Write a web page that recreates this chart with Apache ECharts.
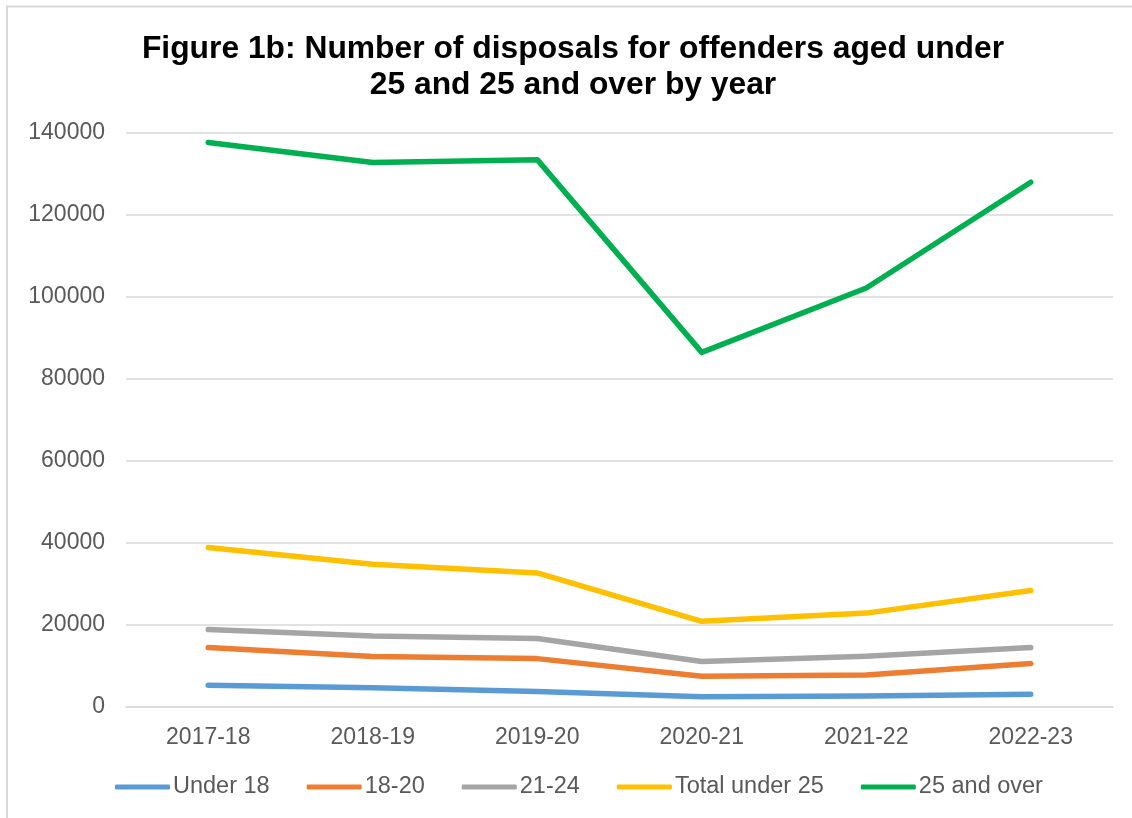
<!DOCTYPE html>
<html>
<head>
<meta charset="utf-8">
<title>Disposals by age group</title>
<script src="https://cdn.jsdelivr.net/npm/echarts@6/dist/echarts.min.js"></script>
<style>
  html, body { margin: 0; padding: 0; background: #fff; }
  #chart { width: 1132px; height: 818px; }
</style>
</head>
<body>
<div id="chart"></div>
<script>
// Financial years on the category axis
const years = ['2017-18', '2018-19', '2019-20', '2020-21', '2021-22', '2022-23'];

// Number of disposals per age group
const under18 = [5300, 4700, 3800, 2500, 2700, 3100];
const age18to20 = [14500, 12300, 11800, 7500, 7800, 10600];
const age21to24 = [18900, 17300, 16700, 11100, 12400, 14500];
const totalUnder25 = [38900, 34800, 32700, 20900, 22900, 28400];
const age25andOver = [137700, 132800, 133500, 86500, 102200, 128000];

const seriesNames = ['Under 18', '18-20', '21-24', 'Total under 25', '25 and over'];
const seriesColors = ['#5B9BD5', '#ED7D31', '#A5A5A5', '#FFC000', '#00B050'];
const seriesData = [under18, age18to20, age21to24, totalUnder25, age25andOver];

const FONT = "'Liberation Sans', Arial, sans-serif";
const chart = echarts.init(document.getElementById('chart'), null, { renderer: 'canvas' });

chart.setOption({
  backgroundColor: '#ffffff',
  animation: false,
  title: {
    text: 'Figure 1b: Number of disposals for offenders aged under\n25 and 25 and over by year',
    left: 568,
    top: 26,
    textAlign: 'center',
    textStyle: {
      fontFamily: FONT,
      fontWeight: 'bold',
      fontSize: 31.8,
      lineHeight: 36,
      color: '#000000'
    }
  },
  grid: {
    left: 126,
    right: 19,
    top: 133,
    bottom: 111,
    containLabel: false
  },
  legend: {
    data: seriesNames,
    bottom: 14,
    left: 110,
    icon: 'roundRect',
    itemWidth: 55,
    itemHeight: 5,
    itemGap: 37,
    textStyle: { fontFamily: FONT, fontSize: 23.5, color: '#595959', padding: [0, 0, 0, -2] }
  },
  xAxis: {
    type: 'category',
    data: years,
    boundaryGap: true,
    axisLine: { show: true, lineStyle: { color: '#d9d9d9', width: 1.5 } },
    axisTick: { show: false },
    axisLabel: { fontFamily: FONT, fontSize: 23, color: '#595959', margin: 19 }
  },
  yAxis: {
    type: 'value',
    min: 0,
    max: 140000,
    interval: 20000,
    axisLine: { show: false },
    axisTick: { show: false },
    splitLine: { lineStyle: { color: '#d9d9d9', width: 1.5 } },
    axisLabel: {
      fontFamily: FONT, fontSize: 23, color: '#595959', margin: 21,
      formatter: (v) => String(v)
    }
  },
  series: seriesNames.map((name, i) => ({
    name: name,
    type: 'line',
    data: seriesData[i],
    symbol: 'none',
    color: seriesColors[i],
    lineStyle: { width: 5.5, color: seriesColors[i], cap: 'round', join: 'round' },
    emphasis: { disabled: true }
  })),
  graphic: [
    {
      type: 'polyline',
      shape: { points: [[7, 818], [7, 6.5], [1132, 6.5]] },
      style: { stroke: '#d9d9d9', lineWidth: 2, fill: null },
      silent: true
    }
  ]
});
</script>
</body>
</html>
